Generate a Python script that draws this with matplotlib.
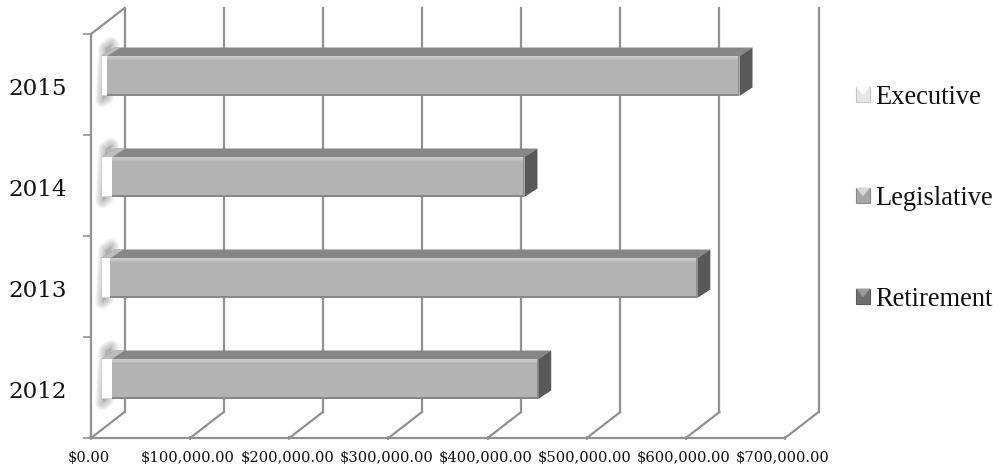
import numpy as np
import matplotlib
matplotlib.use("Agg")
import matplotlib.pyplot as plt
from matplotlib.legend_handler import HandlerBase
from matplotlib.patches import Polygon, Patch
from matplotlib.ticker import FuncFormatter
from matplotlib.transforms import ScaledTranslation

years = ["2012", "2013", "2014", "2015"]
executive = [10500, 9000, 11000, 6000]
legislative = [430000, 592000, 415600, 637500]
retirement = [0, 0, 0, 0]
series_names = ["Executive", "Legislative", "Retirement"]
x_ticks = [0, 100000, 200000, 300000, 400000, 500000, 600000, 700000]

W, H = 1000, 468
fig = plt.figure(figsize=(10, 4.68), dpi=100)
L, R, B, T = 91, 785, 438, 34
ax = fig.add_axes([L / W, 1 - B / H, (R - L) / W, (B - T) / H])
ax.set_xlim(0, 700000)
ax.set_ylim(0, 4)
px = 700000 / (R - L)
py = 4 / (B - T)
GRID = "#919191"


def poly(pts, fc, z=3, alpha=None, ec="none", lw=0):
    ax.add_patch(Polygon(pts, closed=True, fc=fc, ec=ec, lw=lw, alpha=alpha,
                         zorder=z, clip_on=False, joinstyle="round"))


# depth of the walls
DX, DY = 33.6, 26
for v in x_ticks:
    ax.plot([v, v + DX * px], [0, DY * py], color=GRID, lw=1.6, clip_on=False, zorder=1)
    ax.plot([v + DX * px] * 2, [DY * py, 4 + DY * py], color=GRID, lw=1.6, clip_on=False, zorder=1)
ax.plot([0, DX * px], [4, 4 + DY * py], color=GRID, lw=1.6, clip_on=False, zorder=1)

for s in ["top", "right"]:
    ax.spines[s].set_visible(False)
for s in ["left", "bottom"]:
    ax.spines[s].set_color(GRID)
    ax.spines[s].set_linewidth(1.6)

ax.set_xticks(x_ticks)
ax.xaxis.set_major_formatter(FuncFormatter(lambda v, _: f"${v:,.2f}"))
ax.tick_params(axis="x", length=3, width=1.2, color=GRID, labelsize=10.6, pad=7.5,
               labelfontfamily="DejaVu Serif", labelcolor="#111111", direction="inout")
ax.set_yticks(range(5))
ax.set_yticklabels([])
ax.tick_params(axis="y", length=5.8, width=1.2, color=GRID, direction="out")
ax.set_yticks(np.arange(4) + 0.5 - 2 * py, labels=years, minor=True)
ax.tick_params(axis="y", which="minor", length=0, labelsize=16.6, pad=17,
               labelfontfamily="DejaVu Serif", labelcolor="#111111")
for lab in ax.get_xticklabels():
    lab.set_transform(lab.get_transform() + ScaledTranslation(-1.5 / 72, 0, fig.dpi_scale_trans))

# bars in oblique projection
OFF = 10.5
BD_X, BD_Y = 13, 8.5
H_BAR = 40 * py
for i, yr in enumerate(years):
    yb = i + 0.5 - H_BAR / 2 + 8.5 * py
    e = executive[i]
    l = legislative[i]
    x0 = OFF * px
    x1 = x0 + e
    x2 = x1 + l
    yt = yb + H_BAR
    # soft shadow behind the start of the bar
    core = [(x0 + 1 * px, yb - 4 * py), (x0 + 5 * px, yb - 1 * py),
            (x0 + 10 * px, yt + 12 * py), (x0 + 4 * px, yt + 8 * py)]
    for w in [10.5, 9, 7.5, 6, 4.5, 3, 1.5]:
        poly(core, "none", z=2, alpha=0.07, ec="#777777", lw=w)
    poly(core, "#777777", z=2, alpha=0.3)
    # top face
    poly([(x0, yt), (x2, yt), (x2 + BD_X * px, yt + BD_Y * py), (x0 + BD_X * px, yt + BD_Y * py)], "#868686", z=3)
    poly([(x0, yt), (x1, yt), (x1 + BD_X * px, yt + BD_Y * py), (x0 + BD_X * px, yt + BD_Y * py)], "#bdbdbd", z=3)
    # side face
    poly([(x2, yb), (x2 + BD_X * px, yb + BD_Y * py), (x2 + BD_X * px, yt + BD_Y * py), (x2, yt)], "#595959", z=4)
    # front faces
    poly([(x1, yb), (x2, yb), (x2, yt), (x1, yt)], "#b3b3b3", z=5)
    poly([(x0, yb), (x1, yb), (x1, yt), (x0, yt)], "#ffffff", z=5)
    for d, c in zip([3.6, 2.6, 1.4], ["#bababa", "#c3c3c3", "#cdcdcd"]):
        poly([(x1, yt - d * py), (x2, yt - d * py), (x2, yt), (x1, yt)], c, z=6)
    poly([(x1, yb), (x2, yb), (x2, yb + 2 * py), (x1, yb + 2 * py)], "#888888", z=6)
    poly([(x2 - 1.5 * px, yb), (x2, yb), (x2, yt), (x2 - 1.5 * px, yt)], "#8f8f8f", z=6)
    poly([(x0, yb), (x1, yb), (x1, yb + 1.5 * py), (x0, yb + 1.5 * py)], "#d5d5d5", z=6)


class Bevel(HandlerBase):
    def create_artists(self, legend, orig, xd, yd, w, h, fs, trans):
        fc, top, edge = orig.get_gid().split("|")
        x, y = -xd, -yd
        m = 0.5 * w
        outer = Polygon([(x, y), (x + w, y), (x + w, y + h), (x, y + h)], fc=fc, ec=edge, lw=0.8, transform=trans)
        tri = Polygon([(x, y + h), (x + w, y + h), (x + m, y + h * 0.45)], fc=top, ec="none", transform=trans)
        return [outer, tri]


swatches = [("#e6e6e6", "#fafafa", "#c4c4c4"), ("#a6a6a6", "#d6d6d6", "#8a8a8a"), ("#6e6e6e", "#9a9a9a", "#5a5a5a")]
handles = [Patch(gid="|".join(s)) for s in swatches]
leg = fig.legend(handles, series_names, loc="center left", bbox_to_anchor=(0.856, 0.576), frameon=False,
                 prop={"family": "Liberation Serif", "size": 19.1}, handlelength=0.53, handleheight=0.53,
                 handletextpad=0.18, labelspacing=2.86, borderaxespad=0, borderpad=0,
                 handler_map={Patch: Bevel()})
for t in leg.get_texts():
    t.set_color("#111111")

fig.savefig("out.png", dpi=100)
